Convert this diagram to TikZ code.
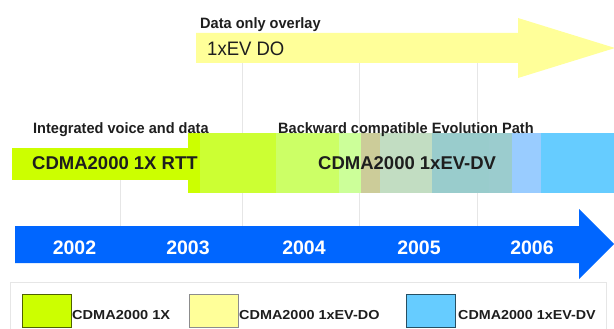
\documentclass[tikz,border=0pt]{standalone}
\usepackage{graphicx}
\usepackage{fontspec}
\setmainfont{Liberation Sans}
\definecolor{cLime}{HTML}{CCFF00}
\definecolor{cLimeB}{HTML}{CCFF33}
\definecolor{cLimeC}{HTML}{CCFF66}
\definecolor{cLimeD}{HTML}{CCFF99}
\definecolor{cTan}{HTML}{CCCC99}
\definecolor{cSage}{HTML}{C2DDC2}
\definecolor{cTeal}{HTML}{99CCCC}
\definecolor{cTealB}{HTML}{9BCCCE}
\definecolor{cSky}{HTML}{99CCFF}
\definecolor{cCyan}{HTML}{66CCFF}
\definecolor{cYel}{HTML}{FFFF99}
\definecolor{cBlue}{HTML}{0066FF}
\definecolor{cGrid}{HTML}{E6E6E6}
\definecolor{cInk}{HTML}{1E1E1E}
\begin{document}
\begin{tikzpicture}[x=1pt,y=-1pt,
  gridline/.style={draw=cGrid,line width=0.8pt},
  toplabel/.style={anchor=base west,inner sep=0pt,text=cInk,font=\bfseries\fontsize{15}{18}\selectfont},
  bandlabel/.style={anchor=base west,inner sep=0pt,text=cInk,font=\fontsize{19.5}{22}\selectfont},
  yearlabel/.style={anchor=base,inner sep=0pt,text=white,font=\bfseries\fontsize{19.5}{22}\selectfont},
  legendlabel/.style={anchor=base west,inner sep=0pt,text=cInk,font=\bfseries\fontsize{13}{15}\selectfont},
  swatch/.style={line width=0.8pt}]
\useasboundingbox (0,0) rectangle (614,329);
\clip (0,0) rectangle (614,329);
% grid lines
\draw[gridline] (120,180) -- (120,226);
\foreach \gx in {242,359,477} \draw[gridline] (\gx,63) -- (\gx,226);
% data only overlay arrow
\fill[cYel] (196,33) -- (518,33) -- (518,18) -- (615,48) -- (518,78) -- (518,63) -- (196,63) -- cycle;
\node[toplabel] (dol) at (200,28.3) {\scalebox{0.97}[1]{Data only overlay}};
\node[bandlabel] (evdo) at (207,55.5) {\scalebox{0.95}[1]{1xEV DO}};
% 1X RTT bar and evolution band
\fill[cLime] (12,148) rectangle (188,180);
\fill[cLime] (188,133) rectangle (200,193);
\fill[cLimeB] (200,133) rectangle (276,193);
\fill[cLimeC] (276,133) rectangle (339,193);
\fill[cLimeD] (339,133) rectangle (361,193);
\fill[cTan] (361,133) rectangle (380,193);
\fill[cSage] (380,133) rectangle (432,193);
\fill[cTeal] (432,133) rectangle (489,193);
\fill[cTealB] (489,133) rectangle (512,193);
\fill[cSky] (512,133) rectangle (541,193);
\fill[cCyan] (541,133) rectangle (614,193);
\node[toplabel] (ivd) at (33,133.3) {\scalebox{0.97}[1]{Integrated voice and data}};
\node[toplabel] (bcep) at (278,133.3) {\scalebox{0.97}[1]{Backward compatible Evolution Path}};
\node[bandlabel,font=\bfseries\fontsize{18.5}{22}\selectfont] (rtt) at (32,169.5) {CDMA2000 1X RTT};
\node[bandlabel,font=\bfseries\fontsize{18.5}{22}\selectfont] (evdv) at (318,169.5) {CDMA2000 1xEV-DV};
% year arrow
\fill[cBlue] (15,226) -- (579,226) -- (579,209) -- (614,244) -- (579,279) -- (579,263) -- (15,263) -- cycle;
\node[yearlabel] (y2002) at (74.5,254) {2002};
\node[yearlabel] (y2003) at (188,254) {2003};
\node[yearlabel] (y2004) at (304,254) {2004};
\node[yearlabel] (y2005) at (419,254) {2005};
\node[yearlabel] (y2006) at (532,254) {2006};
% legend
\draw[draw=cGrid,line width=0.8pt] (10,282) rectangle (606,345);
\draw[swatch,fill=cLime,draw=black!45!cLime!70!black] (22,294) rectangle (71,327.5);
\draw[swatch,fill=cYel,draw=black!45] (189,294) rectangle (238,327.5);
\draw[swatch,fill=cCyan,draw=black!45!cCyan!70!black] (406,294) rectangle (455,327.5);
\node[legendlabel] (l1) at (72,319) {\scalebox{1.12}[1]{CDMA2000 1X}};
\node[legendlabel] (l2) at (239,319) {\scalebox{1.11}[1]{CDMA2000 1xEV-DO}};
\node[legendlabel] (l3) at (458,319) {\scalebox{1.1}[1]{CDMA2000 1xEV-DV}};
\end{tikzpicture}
\end{document}
